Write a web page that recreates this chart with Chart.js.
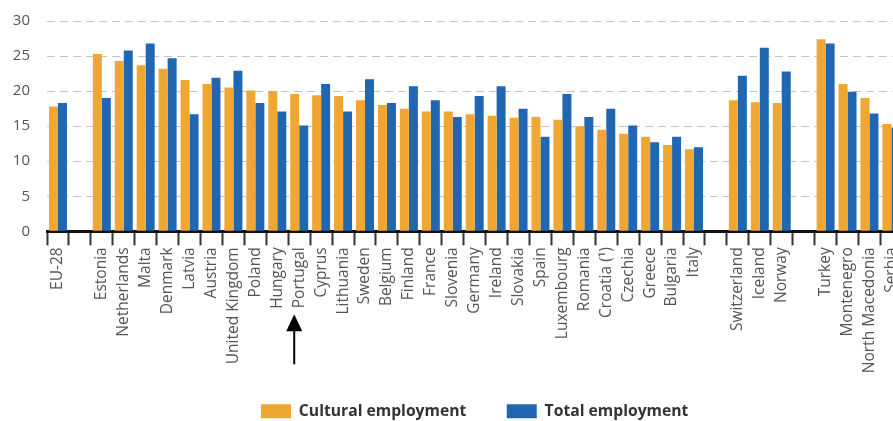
<!DOCTYPE html>
<html>
<head>
<meta charset="utf-8">
<script src="https://cdn.jsdelivr.net/npm/chart.js@4.4.1/dist/chart.umd.min.js"></script>
<style>
  html, body { margin: 0; padding: 0; background: #fff; overflow: hidden; }
  #wrap { position: relative; width: 912px; height: 421px; }
</style>
</head>
<body>
<div id="wrap"><canvas id="employment"></canvas></div>
<script>
// Data ('' = empty spacer column)

var countries = [
    'EU-28', '',
    'Estonia', 'Netherlands', 'Malta', 'Denmark', 'Latvia', 'Austria', 'United Kingdom',
    'Poland', 'Hungary', 'Portugal', 'Cyprus', 'Lithuania', 'Sweden', 'Belgium', 'Finland',
    'France', 'Slovenia', 'Germany', 'Ireland', 'Slovakia', 'Spain', 'Luxembourg', 'Romania',
    'Croatia (¹)', 'Czechia', 'Greece', 'Bulgaria', 'Italy', '',
    'Switzerland', 'Iceland', 'Norway', '',
    'Turkey', 'Montenegro', 'North Macedonia', 'Serbia'
];

var culturalEmployment = [
    17.8, null,
    25.3, 24.3, 23.7, 23.2, 21.6, 21.0, 20.5,
    20.1, 20.0, 19.6, 19.4, 19.3, 18.7, 18.0, 17.5,
    17.1, 17.1, 16.7, 16.5, 16.2, 16.3, 15.9, 15.0,
    14.5, 13.9, 13.5, 12.3, 11.7, null,
    18.7, 18.4, 18.3, null,
    27.4, 21.0, 19.0, 15.3
];

var totalEmployment = [
    18.3, null,
    19.0, 25.8, 26.8, 24.7, 16.7, 21.9, 22.9,
    18.3, 17.1, 15.1, 21.0, 17.1, 21.7, 18.3, 20.7,
    18.7, 16.3, 19.3, 20.7, 17.5, 13.5, 19.6, 16.3,
    17.5, 15.1, 12.7, 13.5, 12.0, null,
    22.2, 26.2, 22.8, null,
    26.8, 19.9, 16.8, 14.8
];

var yTicks = [0, 5, 10, 15, 20, 25, 30];
var markedCountry = 'Portugal';


// Arrow under the marked country label

var arrowPlugin = {
    id: 'arrow',
    afterDraw: function (chart) {
        var ctx = chart.ctx;
        var x = chart.scales.x.getPixelForValue(countries.indexOf(markedCountry)) - 5;
        var base = chart.chartArea.bottom;
        ctx.save();
        ctx.strokeStyle = '#000';
        ctx.fillStyle = '#000';
        ctx.lineWidth = 2;
        ctx.beginPath();
        ctx.moveTo(x, base + 133);
        ctx.lineTo(x, base + 97);
        ctx.stroke();
        ctx.beginPath();
        ctx.moveTo(x, base + 83);
        ctx.lineTo(x - 8, base + 100);
        ctx.lineTo(x + 8, base + 100);
        ctx.closePath();
        ctx.fill();
        ctx.restore();
    }
};


// Chart

var chart = new Chart(document.getElementById('employment'), {
    type: 'bar',
    data: {
        labels: countries,
        datasets: [{
            label: 'Cultural employment',
            data: culturalEmployment,
            backgroundColor: '#F0A632'
        }, {
            label: 'Total employment',
            data: totalEmployment,
            backgroundColor: '#2166B0'
        }]
    },
    options: {
        responsive: true,
        maintainAspectRatio: false,
        animation: false,
        layout: { padding: { top: 21, left: 0, right: 0, bottom: -8 } },
        datasets: {
            bar: { categoryPercentage: 0.82, barPercentage: 1.0 }
        },
        plugins: {
            legend: {
                position: 'bottom',
                fullSize: false,
                labels: {
                    boxWidth: 30,
                    boxHeight: 14,
                    padding: 5,
                    color: '#333',
                    font: { family: 'Open Sans', size: 15.7, weight: 'bold' },
                    generateLabels: function (chart) {
                        var items = Chart.defaults.plugins.legend.labels.generateLabels(chart);
                        // widen the gap between the two entries
                        items[0].text += '\u2002\u2002\u2002\u2002 ';
                        return items;
                    }
                }
            },
            tooltip: { enabled: false }
        },
        scales: {
            x: {
                grid: {
                    offset: true,
                    drawOnChartArea: false,
                    drawTicks: true,
                    tickLength: 14,
                    tickColor: '#333',
                    tickWidth: 2
                },
                border: { color: '#111', width: 3 },
                ticks: {
                    autoSkip: false,
                    minRotation: 90,
                    maxRotation: 90,
                    padding: 2,
                    color: '#555',
                    font: { family: 'Open Sans', size: 15.5 }
                },
                afterFit: function (scale) { scale.height = 167; }
            },
            y: {
                min: 0,
                max: 30,
                afterBuildTicks: function (scale) {
                    scale.ticks = yTicks.map(function (v) { return { value: v }; });
                },
                grid: {
                    color: '#c4c4c4',
                    lineWidth: 1,
                    drawTicks: true,
                    tickLength: 17,
                    tickColor: 'rgba(0,0,0,0)'
                },
                border: { display: false, dash: [8, 5] },
                ticks: {
                    padding: 0,
                    color: '#555',
                    font: { family: 'Open Sans', size: 15 }
                },
                afterFit: function (scale) { scale.width = 47; }
            }
        }
    },
    plugins: [arrowPlugin]
});
</script>
</body>
</html>
